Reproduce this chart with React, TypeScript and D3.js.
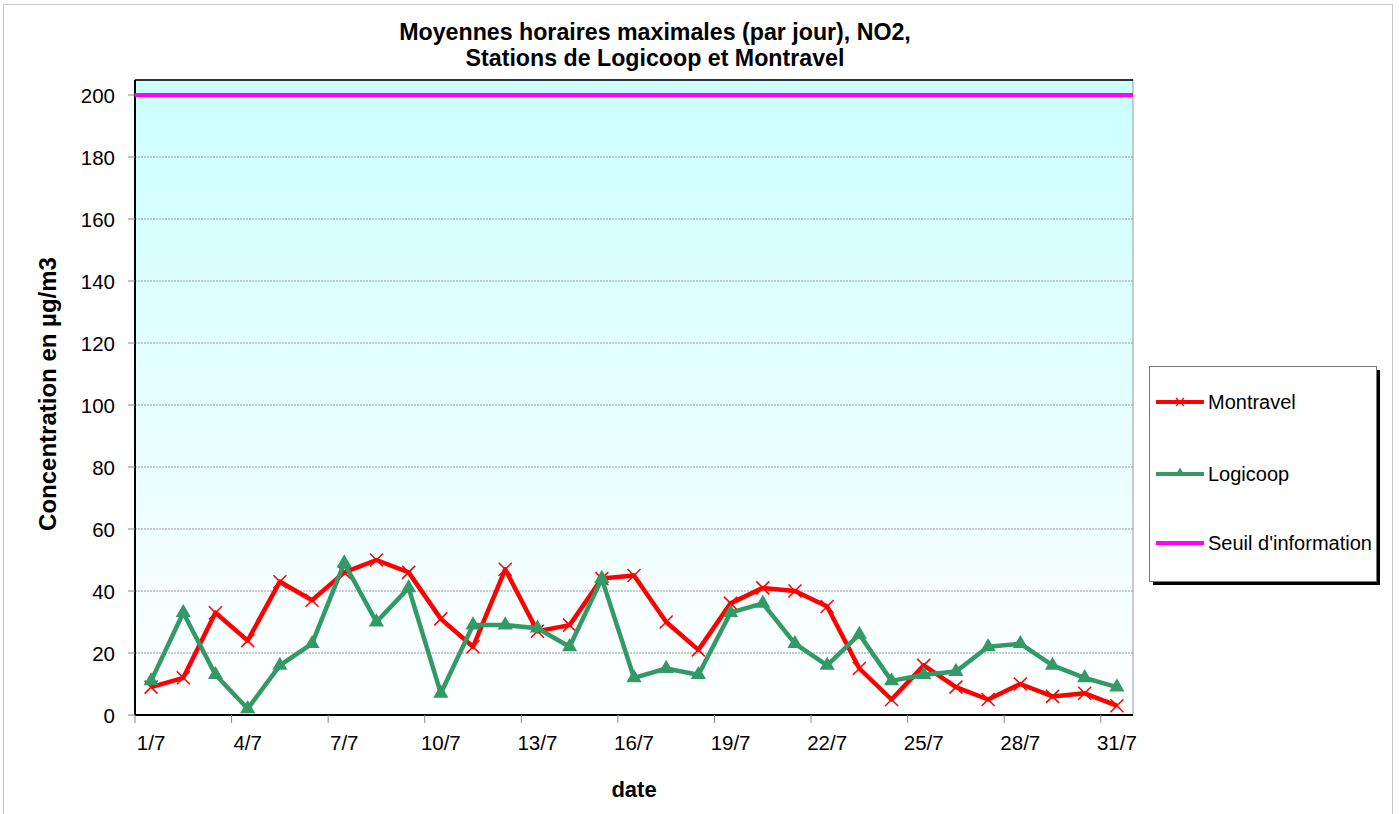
import React from "react";
import * as d3 from "d3";

const days: string[] = Array.from({ length: 31 }, (_, i) => `${i + 1}/7`);
const montravel: number[] = [9, 12, 33, 24, 43, 37, 46, 50, 46, 31, 22, 47, 27, 29, 44, 45, 30, 21, 36, 41, 40, 35, 15, 5, 16, 9, 5, 10, 6, 7, 3];
const logicoop: number[] = [11, 33, 13, 2, 16, 23, 49, 30, 41, 7, 29, 29, 28, 22, 44, 12, 15, 13, 33, 36, 23, 16, 26, 11, 13, 14, 22, 23, 16, 12, 9];
const seuil = 200;
const yTicks: number[] = [0, 20, 40, 60, 80, 100, 120, 140, 160, 180, 200];
const title1 = "Moyennes horaires maximales (par jour), NO2,";
const title2 = "Stations de Logicoop et Montravel";

const W = 1399, H = 814;
const L = 135, R = 1133, T = 80, B = 715;
const FONT = "'Liberation Sans', Arial, sans-serif";

export default function App() {
  const x = d3.scaleBand<string>().domain(days).range([L, R]).padding(0);
  const y = d3.scaleLinear().domain([0, 200]).range([B, 95]);
  const cx = (d: string) => (x(d) as number) + x.bandwidth() / 2;
  const line = d3.line<number>().x((_, i) => cx(days[i])).y((v) => y(v));
  const tri = d3.symbol().type(d3.symbolTriangle).size(100)();
  const triSmall = d3.symbol().type(d3.symbolTriangle).size(40)();

  return (
    <div style={{ position: "absolute", left: 0, top: 0 }}>
      <svg width={W} height={H} style={{ display: "block", fontFamily: FONT }}>
        <defs>
          <linearGradient id="bg" x1="0" y1="0" x2="0" y2="1">
            <stop offset="0" stopColor="#ccffff" />
            <stop offset="1" stopColor="#ffffff" />
          </linearGradient>
        </defs>
        <rect x={0} y={0} width={W} height={H} fill="#fff" />
        <rect x={3.5} y={4.5} width={1389} height={H} fill="none" stroke="#c8c8c8" strokeWidth={1} />
        <text x={655} y={40} textAnchor="middle" fontSize={23.2} fontWeight="bold">{title1}</text>
        <text x={655} y={66} textAnchor="middle" fontSize={23.2} fontWeight="bold">{title2}</text>
        <rect x={L} y={T} width={R - L} height={B - T} fill="url(#bg)" stroke="#999" strokeWidth={1} />
        {yTicks.filter((t) => t > 0 && t < 200).map((t) => (
          <line key={t} x1={L} x2={R} y1={y(t)} y2={y(t)} stroke="#999" strokeWidth={1} strokeDasharray="2,1" />
        ))}
        <line x1={L} x2={R} y1={T} y2={T} stroke="#000" strokeWidth={1.5} />
        <line x1={L} x2={L} y1={T} y2={B} stroke="#000" strokeWidth={2} />
        <line x1={L} x2={R} y1={B} y2={B} stroke="#000" strokeWidth={2} />
        {yTicks.map((t) => (
          <g key={t}>
            <line x1={L - 7} x2={L} y1={y(t)} y2={y(t)} stroke="#888" strokeWidth={1} />
            <text x={115} y={y(t) + 7.5} textAnchor="end" fontSize={20.5}>{t}</text>
          </g>
        ))}
        {days.map((d, i) =>
          i % 3 === 0 ? (
            <g key={d}>
              <line x1={x(d) as number} x2={x(d) as number} y1={B} y2={B + 8} stroke="#888" strokeWidth={1} />
              <text x={cx(d)} y={B + 35} textAnchor="middle" fontSize={20.5}>{d}</text>
            </g>
          ) : null
        )}
        <text x={634} y={797} textAnchor="middle" fontSize={22} fontWeight="bold">date</text>
        <text transform={`translate(56,${394}) rotate(-90)`} textAnchor="middle" fontSize={24} fontWeight="bold">Concentration en µg/m3</text>
        <line x1={L} x2={R} y1={y(seuil)} y2={y(seuil)} stroke="#ff00ff" strokeWidth={4} />
        <path d={line(montravel) as string} fill="none" stroke="#ff0000" strokeWidth={4.5} strokeLinejoin="round" />
        {montravel.map((v, i) => (
          <path key={i} d={`M${cx(days[i]) - 6.5},${y(v) - 6.5}L${cx(days[i]) + 6.5},${y(v) + 6.5}M${cx(days[i]) - 6.5},${y(v) + 6.5}L${cx(days[i]) + 6.5},${y(v) - 6.5}`} stroke="#ff0000" strokeWidth={1.5} />
        ))}
        <path d={line(logicoop) as string} fill="none" stroke="#339966" strokeWidth={4.5} strokeLinejoin="round" />
        {logicoop.map((v, i) => (
          <path key={i} d={tri as string} transform={`translate(${cx(days[i])},${y(v)})`} fill="#339966" />
        ))}
        <rect x={1153} y={370} width={227} height={215} fill="#000" />
        <rect x={1149.5} y={366.5} width={227} height={215} fill="#fff" stroke="#777" strokeWidth={1} />
        <line x1={1156} x2={1204} y1={402} y2={402} stroke="#ff0000" strokeWidth={4} />
        <path d="M1176,398L1184,406M1176,406L1184,398" stroke="#ff0000" strokeWidth={1.2} />
        <text x={1208} y={409} fontSize={20}>Montravel</text>
        <line x1={1156} x2={1204} y1={474} y2={474} stroke="#339966" strokeWidth={4} />
        <path d={triSmall as string} transform="translate(1180,473)" fill="#339966" />
        <text x={1208} y={481} fontSize={20}>Logicoop</text>
        <line x1={1156} x2={1204} y1={543} y2={543} stroke="#ff00ff" strokeWidth={4} />
        <text x={1208} y={550} fontSize={20}>Seuil d'information</text>
      </svg>
    </div>
  );
}
